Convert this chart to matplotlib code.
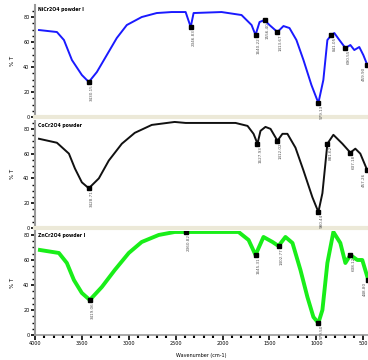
import matplotlib.pyplot as plt
from matplotlib.ticker import MultipleLocator

# wavenumber (cm-1) and %T
wn_top = [3957, 3766, 3691, 3606, 3500, 3426, 3340, 3234, 3128, 3021, 2862, 2702, 2543,
          2394, 2340, 2309, 2011, 1798, 1691, 1649, 1606, 1553, 1500, 1415, 1351, 1287,
          1213, 1138, 1053, 979, 926, 883, 840, 809, 755, 691, 638, 596, 543, 500, 457]
t_top = [69.6, 68.0, 61.6, 45.6, 33.6, 28.0, 36.0, 49.6, 63.2, 73.6, 80.0, 83.2, 84.0,
         84.0, 72.0, 83.2, 84.0, 81.6, 73.6, 65.6, 76.0, 77.6, 73.6, 68.0, 72.8, 71.2,
         61.6, 45.6, 25.6, 11.2, 29.6, 61.6, 65.6, 67.2, 61.6, 55.2, 57.6, 53.6, 56.0, 49.6, 41.6]

wn_mid = [3957, 3766, 3638, 3574, 3500, 3426, 3319, 3213, 3074, 2936, 2755, 2511, 2394,
          2181, 1862, 1734, 1670, 1628, 1596, 1543, 1489, 1415, 1362, 1309, 1223, 1138,
          1043, 979, 936, 883, 819, 723, 638, 585, 532, 457]
t_mid = [72.0, 68.8, 60.0, 48.0, 36.8, 32.0, 40.0, 54.4, 68.0, 76.8, 83.2, 85.6, 84.8,
         84.8, 84.8, 82.4, 76.0, 68.0, 78.4, 81.6, 80.0, 70.4, 76.0, 76.0, 64.8, 46.4,
         24.8, 12.8, 28.0, 68.0, 75.2, 68.0, 60.8, 64.0, 60.0, 46.4]

wn_bot = [3947, 3745, 3660, 3585, 3500, 3415, 3287, 3149, 3000, 2862, 2681, 2511, 2394,
          2074, 1830, 1723, 1649, 1564, 1468, 1404, 1330, 1255, 1170, 1096, 1032, 979,
          936, 883, 819, 745, 691, 638, 564, 511, 447]
t_bot = [68.0, 65.6, 57.6, 44.0, 33.6, 28.0, 38.4, 52.0, 65.6, 74.4, 80.0, 82.4, 82.4,
         82.4, 82.4, 76.0, 64.0, 78.4, 74.4, 71.2, 78.4, 73.6, 52.0, 30.4, 14.4, 9.6,
         20.0, 57.6, 82.4, 73.6, 57.6, 64.0, 60.0, 60.0, 44.0]

# picked peaks: (wavenumber, label)
peaks_top = [(3426, "3430.15"), (2340, "2346.83"), (1649, "1640.22"), (1553, "1556.40"),
             (1415, "1413.67"), (979, "979.13"), (840, "841.05"), (691, "690.55"), (457, "459.90")]
peaks_mid = [(3426, "3428.71"), (1628, "1627.93"), (1415, "1412.02"), (979, "980.44"),
             (883, "881.62"), (638, "637.18"), (457, "457.26")]
peaks_bot = [(3415, "3419.06"), (2394, "2360.82"), (1649, "1645.31"), (1404, "1402.77"),
             (979, "979.50"), (638, "638.12"), (447, "448.80")]

titles = ["NiCr2O4 powder I", "CoCr2O4 powder", "ZnCr2O4 powder I"]
colors = ["#1a1aff", "#111111", "#19ee19"]
widths = [1.4, 1.4, 2.8]
xticks = [4000, 3500, 3000, 2500, 2000, 1500, 1000, 500]

fig = plt.figure(figsize=(3.68, 3.6), dpi=100)
rects = [[0.095, 0.675, 0.905, 0.311],
         [0.095, 0.367, 0.905, 0.297],
         [0.095, 0.0694, 0.905, 0.289]]
series = [(wn_top, t_top, peaks_top, 89.6),
          (wn_mid, t_mid, peaks_mid, 86.4),
          (wn_bot, t_bot, peaks_bot, 83.2)]

for i, (wn, t, peaks, ytop) in enumerate(series):
    ax = fig.add_axes(rects[i])
    ax.plot(wn, t, color=colors[i], lw=widths[i], solid_joinstyle='round')
    lookup = dict(zip(wn, t))
    for j, (w, txt) in enumerate(peaks):
        ax.plot(w, lookup[w], 's', color='black', ms=2.2)
        # last label sits at the right edge, so put it left of its marker
        last = j == len(peaks) - 1
        ax.annotate(txt, (w, lookup[w]), xytext=(-1.0 if last else 1.0, -1.5),
                    textcoords='offset points', rotation=90,
                    ha='right' if last else 'left', va='top', fontsize=3,
                    color='#555555', annotation_clip=False)
    ax.set_xlim(4000, 450)
    ax.set_ylim(0, ytop)
    ax.spines['top'].set_visible(False)
    ax.spines['right'].set_visible(False)
    ax.spines['left'].set_color('#999999')
    ax.spines['left'].set_linewidth(1.5)
    ax.yaxis.set_major_locator(MultipleLocator(20))
    ax.yaxis.set_minor_locator(MultipleLocator(5))
    ax.tick_params(axis='y', which='major', labelsize=3.5, length=3, width=1.2, pad=1)
    ax.tick_params(axis='y', which='minor', length=2, width=1)
    ax.set_ylabel("% T", fontsize=4, labelpad=6)
    ax.text(0.01, 0.98, titles[i], transform=ax.transAxes, fontsize=3.3,
            fontweight='bold', va='top', ha='left')
    if i < 2:
        ax.spines['bottom'].set_color('#ece9d8')
        ax.spines['bottom'].set_linewidth(3)
        ax.set_xticks([])
    else:
        ax.spines['bottom'].set_color('#999999')
        ax.spines['bottom'].set_linewidth(1.2)
        ax.set_xticks(xticks)
        ax.xaxis.set_minor_locator(MultipleLocator(100))
        ax.tick_params(axis='x', which='major', labelsize=3.5, length=3.5, width=1.2, pad=1)
        ax.tick_params(axis='x', which='minor', length=2.5, width=1.5)
        ax.set_xlabel("Wavenumber (cm-1)", fontsize=3.5, labelpad=5)

fig.savefig("out.png", dpi=100)
